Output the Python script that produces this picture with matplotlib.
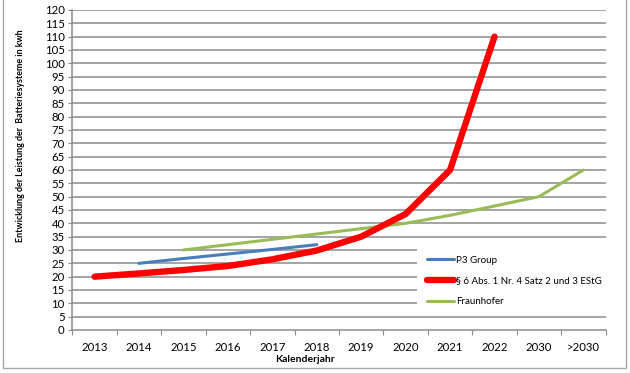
import numpy as np
import matplotlib.pyplot as plt
from matplotlib.patches import Rectangle

plt.rcParams['font.family'] = ['Lato', 'DejaVu Sans']

years = ['2013', '2014', '2015', '2016', '2017', '2018', '2019', '2020',
         '2021', '2022', '2030', '>2030']

# None = no value in this year
p3_group = [None, 25, 26.8, 28.5, 30.2, 32, None, None, None, None, None, None]
estg = [20, 21.2, 22.5, 24, 26.5, 29.8, 35, 43.5, 60, 110, None, None]
fraunhofer = [None, None, 30, 32, 34, 36, 38, 40, 43, 46.5, 50, 60]


def to_xy(vals):
    xs = [i for i, v in enumerate(vals) if v is not None]
    ys = [v for v in vals if v is not None]
    return xs, ys


fig = plt.figure(figsize=(6.3, 3.73), dpi=100)
ax = fig.add_axes([0.1148, 0.1153, 0.8465, 0.8579])

grid_col = '#8c8c8c'
for v in range(5, 125, 5):
    ax.axhline(v, color=grid_col, lw=1.1, zorder=0)

x, y = to_xy(p3_group)
ax.plot(x, y, color='#4a7ebb', lw=2.2, solid_capstyle='round', label='P3 Group', zorder=3)
x, y = to_xy(estg)
ax.plot(x, y, color='#ff0000', lw=4.6, solid_capstyle='round', solid_joinstyle='round',
        label='§ 6 Abs. 1 Nr. 4 Satz 2 und 3 EStG', zorder=4)
x, y = to_xy(fraunhofer)
ax.plot(x, y, color='#9bbb59', lw=2.2, solid_capstyle='round', label='Fraunhofer', zorder=3)

ax.set_xlim(-0.5, 11.5)
ax.set_ylim(0, 120)
ax.set_yticks(range(0, 125, 5))
ax.tick_params(axis='y', labelsize=8.2, length=3, color=grid_col, pad=2.5)

ax.set_xticks(np.arange(-0.5, 12, 1))
ax.set_xticklabels([])
ax.set_xticks(range(len(years)), minor=True)
ax.set_xticklabels(years, minor=True)
ax.tick_params(axis='x', which='major', length=3.5, color=grid_col)
ax.tick_params(axis='x', which='minor', length=0, labelsize=8.2, pad=8.5)

for s in ['top', 'right']:
    ax.spines[s].set_visible(False)
for s in ['left', 'bottom']:
    ax.spines[s].set_color(grid_col)
    ax.spines[s].set_linewidth(1.1)

leg = ax.legend(loc='upper left', bbox_to_anchor=(0.662, 0.3405), bbox_transform=fig.transFigure,
                frameon=True, fancybox=False, framealpha=1, fontsize=7, handlelength=2.78,
                labelspacing=1.2, borderpad=1.0, handletextpad=0.2, borderaxespad=0)
leg.get_frame().set_facecolor('white')
leg.get_frame().set_edgecolor('none')
leg.set_zorder(10)

fig.text(305 / 630, 1 - 360 / 373, 'Kalenderjahr', ha='center', va='center',
         fontsize=7.5, fontweight='bold')
fig.text(21 / 630, 1 - 136 / 373, 'Entwicklung der Leistung der  Batteriesysteme in kwh',
         ha='center', va='center', rotation=90, fontsize=6.4, fontweight='bold')

fig.patches.append(Rectangle((3 / 630, 5 / 373), 623 / 630, 1.2, transform=fig.transFigure,
                             fill=False, edgecolor='#a6a6a6', lw=1.0))

fig.savefig('out.png', dpi=100)
